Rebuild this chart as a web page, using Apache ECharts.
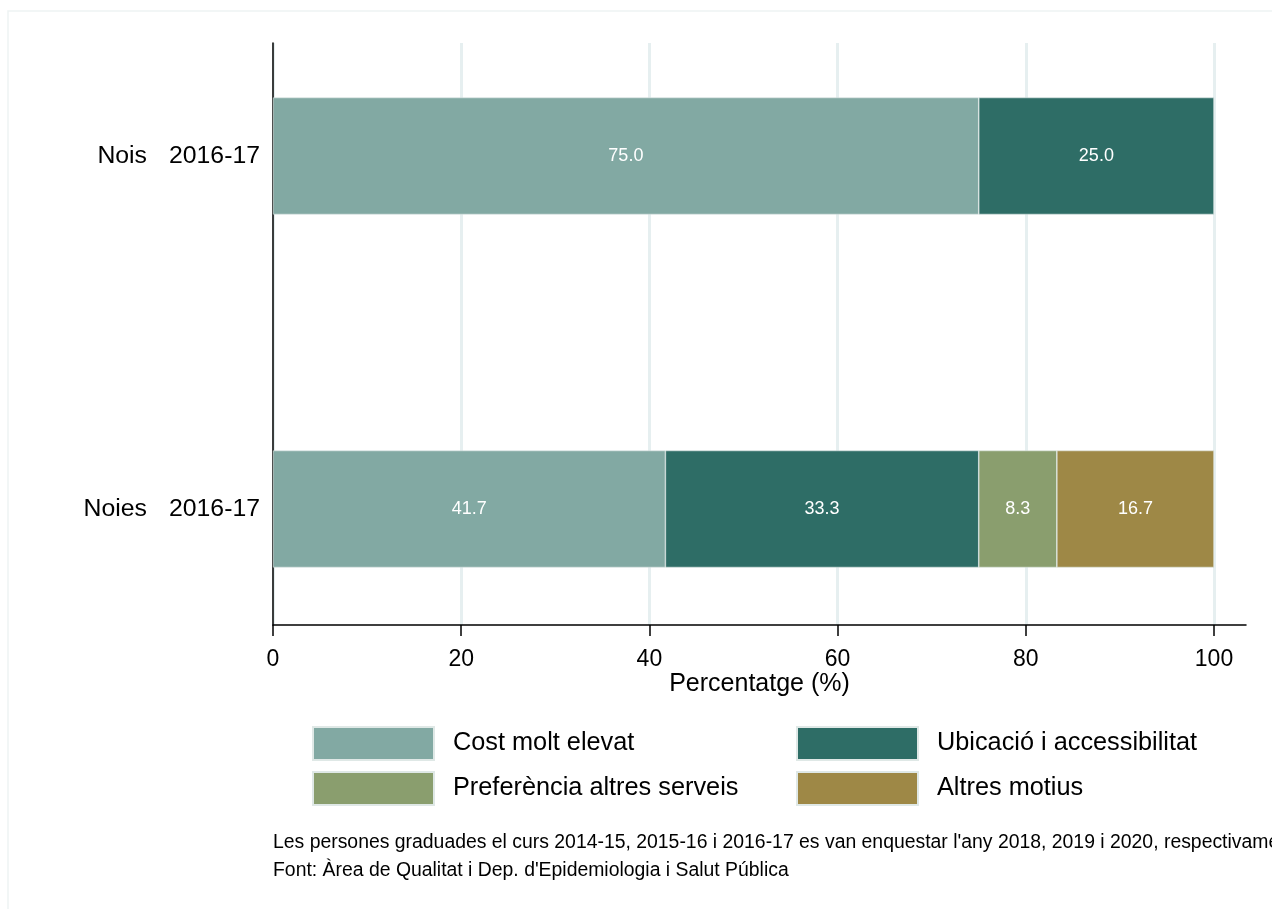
<!DOCTYPE html>
<html>
<head>
<meta charset="utf-8">
<title>Motius</title>
<script src="https://cdn.jsdelivr.net/npm/echarts@6/dist/echarts.min.js"></script>
<style>
  html, body { margin: 0; padding: 0; background: #fff; }
  #chart { width: 1272px; height: 909px; }
</style>
</head>
<body>
<div id="chart"></div>
<script>
const groups = ['Nois', 'Noies']
const course = '2016-17'
const costValues = [75.0, 41.7]
const ubicacioValues = [25.0, 33.3]
const preferenciaValues = [null, 8.3]
const altresValues = [null, 16.7]

const seriesNames = ['Cost molt elevat', 'Ubicació i accessibilitat', 'Preferència altres serveis', 'Altres motius']
const seriesColors = ['#82a9a3', '#2e6d66', '#8a9e6e', '#9e8846']
const seriesData = [costValues, ubicacioValues, preferenciaValues, altresValues]

const font = 'Liberation Sans, Arial, sans-serif'
const chart = echarts.init(document.getElementById('chart'))

const legendBase = {
  top: 726, orient: 'vertical', padding: 0,
  itemWidth: 121, itemHeight: 33, itemGap: 10,
  icon: 'rect',
  textStyle: { fontSize: 25.3, color: '#000', fontFamily: font, padding: [0, 0, 0, 14] }
}

const option = {
  animation: false,
  textStyle: { fontFamily: font },
  grid: [
    // ticks, labels and gridlines (0..100)
    { left: 273, right: 58, top: 43, bottom: 284 },
    // bars
    { left: 273, right: 58, top: 156, bottom: 400 },
    // full-width axis frame
    { left: 273, right: 26, top: 43, bottom: 284 }
  ],
  xAxis: [
    {
      gridIndex: 0,
      type: 'value',
      min: 0,
      max: 100,
      interval: 20,
      axisLine: { show: false },
      axisTick: { show: true, length: 11, lineStyle: { color: '#000', width: 1.5 } },
      axisLabel: { color: '#000', fontSize: 23, margin: 23 },
      splitLine: { show: true, lineStyle: { color: '#e6eff0', width: 3 } }
    },
    {
      gridIndex: 1,
      type: 'value',
      min: 0,
      max: 100,
      show: false
    },
    {
      gridIndex: 2,
      type: 'value',
      min: 0,
      max: 1,
      name: 'Percentatge (%)',
      nameLocation: 'middle',
      nameGap: 47,
      nameTextStyle: { color: '#000', fontSize: 25, fontFamily: font },
      axisLine: { show: true, lineStyle: { color: '#000', width: 1.5 } },
      axisTick: { show: false },
      axisLabel: { show: false },
      splitLine: { show: false }
    }
  ],
  yAxis: [
    {
      gridIndex: 0,
      type: 'value',
      show: false
    },
    {
      gridIndex: 1,
      type: 'category',
      data: groups,
      inverse: true,
      boundaryGap: false,
      axisLine: { show: false },
      axisTick: { show: false },
      splitLine: { show: false },
      axisLabel: {
        margin: 13,
        formatter: v => '{n|' + v + '}{c|' + course + '}',
        rich: {
          n: { fontSize: 24.8, color: '#000', fontFamily: font, padding: [0, 22, 0, 0] },
          c: { fontSize: 24.8, color: '#000', fontFamily: font }
        }
      }
    },
    {
      gridIndex: 2,
      type: 'value',
      min: 0,
      max: 1,
      axisLine: { show: true, onZero: false, lineStyle: { color: '#000', width: 1.5 } },
      axisTick: { show: false },
      axisLabel: { show: false },
      splitLine: { show: false }
    }
  ],
  legend: [
    Object.assign({}, legendBase, { left: 312, data: [seriesNames[0], seriesNames[2]] }),
    Object.assign({}, legendBase, { left: 796, data: [seriesNames[1], seriesNames[3]] })
  ],
  graphic: [
    {
      type: 'rect', silent: true, z: -10,
      shape: { x: 8, y: 11, width: 1400, height: 1000 },
      style: { fill: 'none', stroke: '#eef3f3', lineWidth: 1.5 }
    },
    {
      type: 'text', left: 273, top: 833,
      style: {
        text: "Les persones graduades el curs 2014-15, 2015-16 i 2016-17 es van enquestar l'any 2018, 2019 i 2020, respectivament.",
        fontSize: 19.4, fill: '#000', fontFamily: font
      }
    },
    {
      type: 'text', left: 273, top: 861,
      style: {
        text: 'Font: Àrea de Qualitat i Dep. d\'Epidemiologia i Salut Pública',
        fontSize: 19.4, fill: '#000', fontFamily: font
      }
    }
  ],
  series: seriesNames.map((name, i) => ({
    name,
    type: 'bar',
    stack: 'total',
    xAxisIndex: 1,
    yAxisIndex: 1,
    barWidth: 117,
    data: seriesData[i],
    itemStyle: { color: seriesColors[i], borderColor: '#dfe8e6', borderWidth: 0.6 },
    label: {
      show: true,
      position: 'inside',
      color: '#fff',
      fontSize: 18,
      fontFamily: font,
      formatter: p => p.value == null ? '' : Number(p.value).toFixed(1)
    }
  }))
}

chart.setOption(option)
</script>
</body>
</html>
